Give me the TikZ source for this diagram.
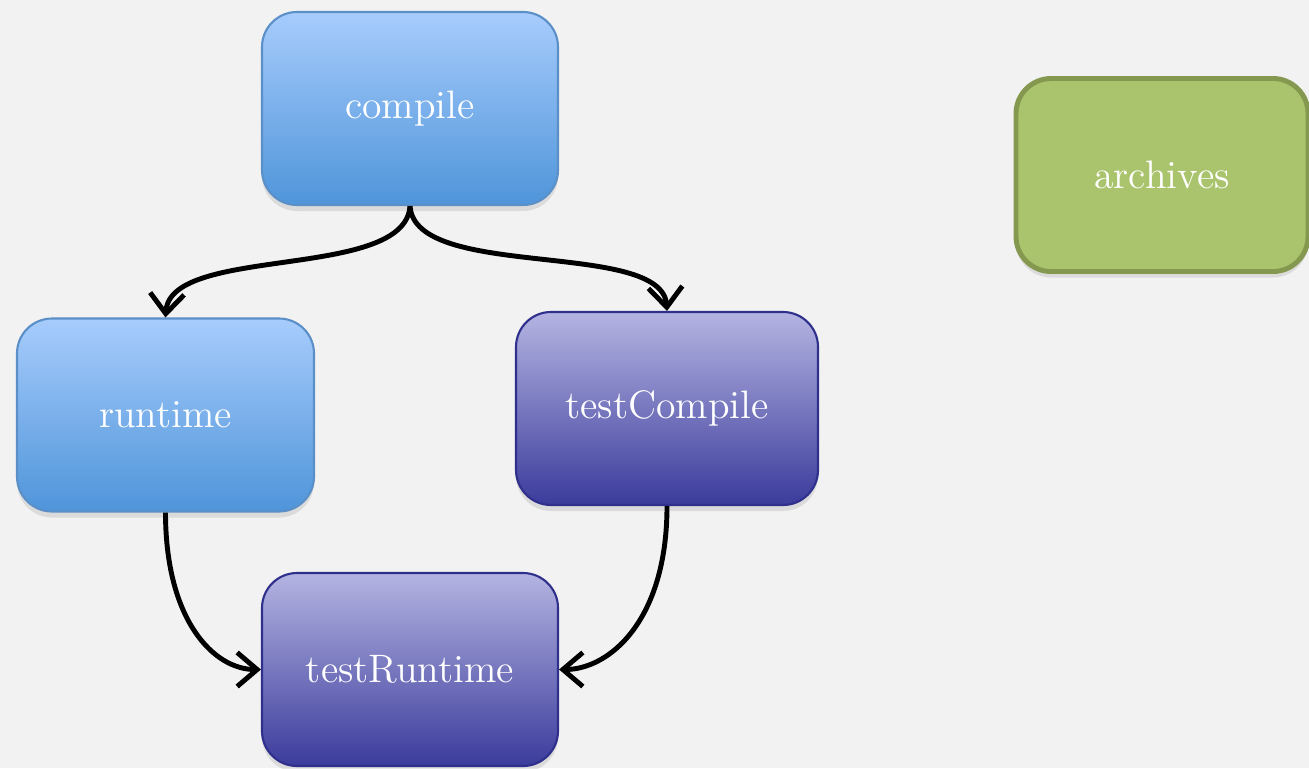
\documentclass[tikz,border=0pt]{standalone}
\usepackage{xcolor}
\usepackage{tikz}
\usetikzlibrary{arrows.meta,shadows}

\definecolor{paper}{HTML}{F2F2F2}
\definecolor{blueTop}{HTML}{A7CCFC}
\definecolor{blueBot}{HTML}{4F95DA}
\definecolor{blueLine}{HTML}{5A8FC8}
\definecolor{violetTop}{HTML}{B4B4E2}
\definecolor{violetBot}{HTML}{3B3B9C}
\definecolor{violetLine}{HTML}{2F2F8C}
\definecolor{greenFill}{HTML}{A9C46C}
\definecolor{greenLine}{HTML}{84984F}

\tikzset{
    box/.style={rounded corners=0.35cm, minimum width=2.96cm, minimum height=1.93cm,
        inner sep=0pt, text=white, font=\fontsize{11.3}{13}\selectfont,
        drop shadow={opacity=0.2, shadow xshift=0pt, shadow yshift=-0.6mm}},
    mainbox/.style={box, draw=blueLine, line width=0.6pt, top color=blueTop, bottom color=blueBot},
    testbox/.style={box, draw=violetLine, line width=0.6pt, top color=violetTop, bottom color=violetBot},
    archbox/.style={box, draw=greenLine, line width=1.4pt, fill=greenFill},
    dep/.style={line width=1.4pt, -{Straight Barb[length=2mm,width=3.4mm]}}
}

\begin{document}
\begin{tikzpicture}
    % Paper background
    \fill[paper] (0,0) rectangle (13.09,-7.68);
    \useasboundingbox (0,0) rectangle (13.09,-7.68);

    \foreach \name/\x/\y/\kind/\w in {compile/4.10/-1.085/mainbox/2.96, runtime/1.655/-4.15/mainbox/2.97,
            testCompile/6.67/-4.085/testbox/3.02, testRuntime/4.10/-6.695/testbox/2.96} {
        % Configuration box
        \node[\kind, minimum width=\w cm] (\name) at (\x,\y) {\name};
    }
    \node[archbox, minimum width=2.92cm] (archives) at (11.62,-1.75) {archives};

    % Dependencies
    \draw[dep] (compile.south) .. controls +(-0.05,-0.75) and +(0.05,0.73) .. (runtime.north);
    \draw[dep] (compile.south) .. controls +(0.05,-0.75) and +(-0.05,0.72) .. (testCompile.north);
    \draw[dep] (runtime.south) .. controls +(0,-1.08) and +(-0.47,0) .. (testRuntime.west);
    \draw[dep] (testCompile.south) .. controls +(0,-1.15) and +(0.5,0) .. (testRuntime.east);

\end{tikzpicture}
\end{document}
